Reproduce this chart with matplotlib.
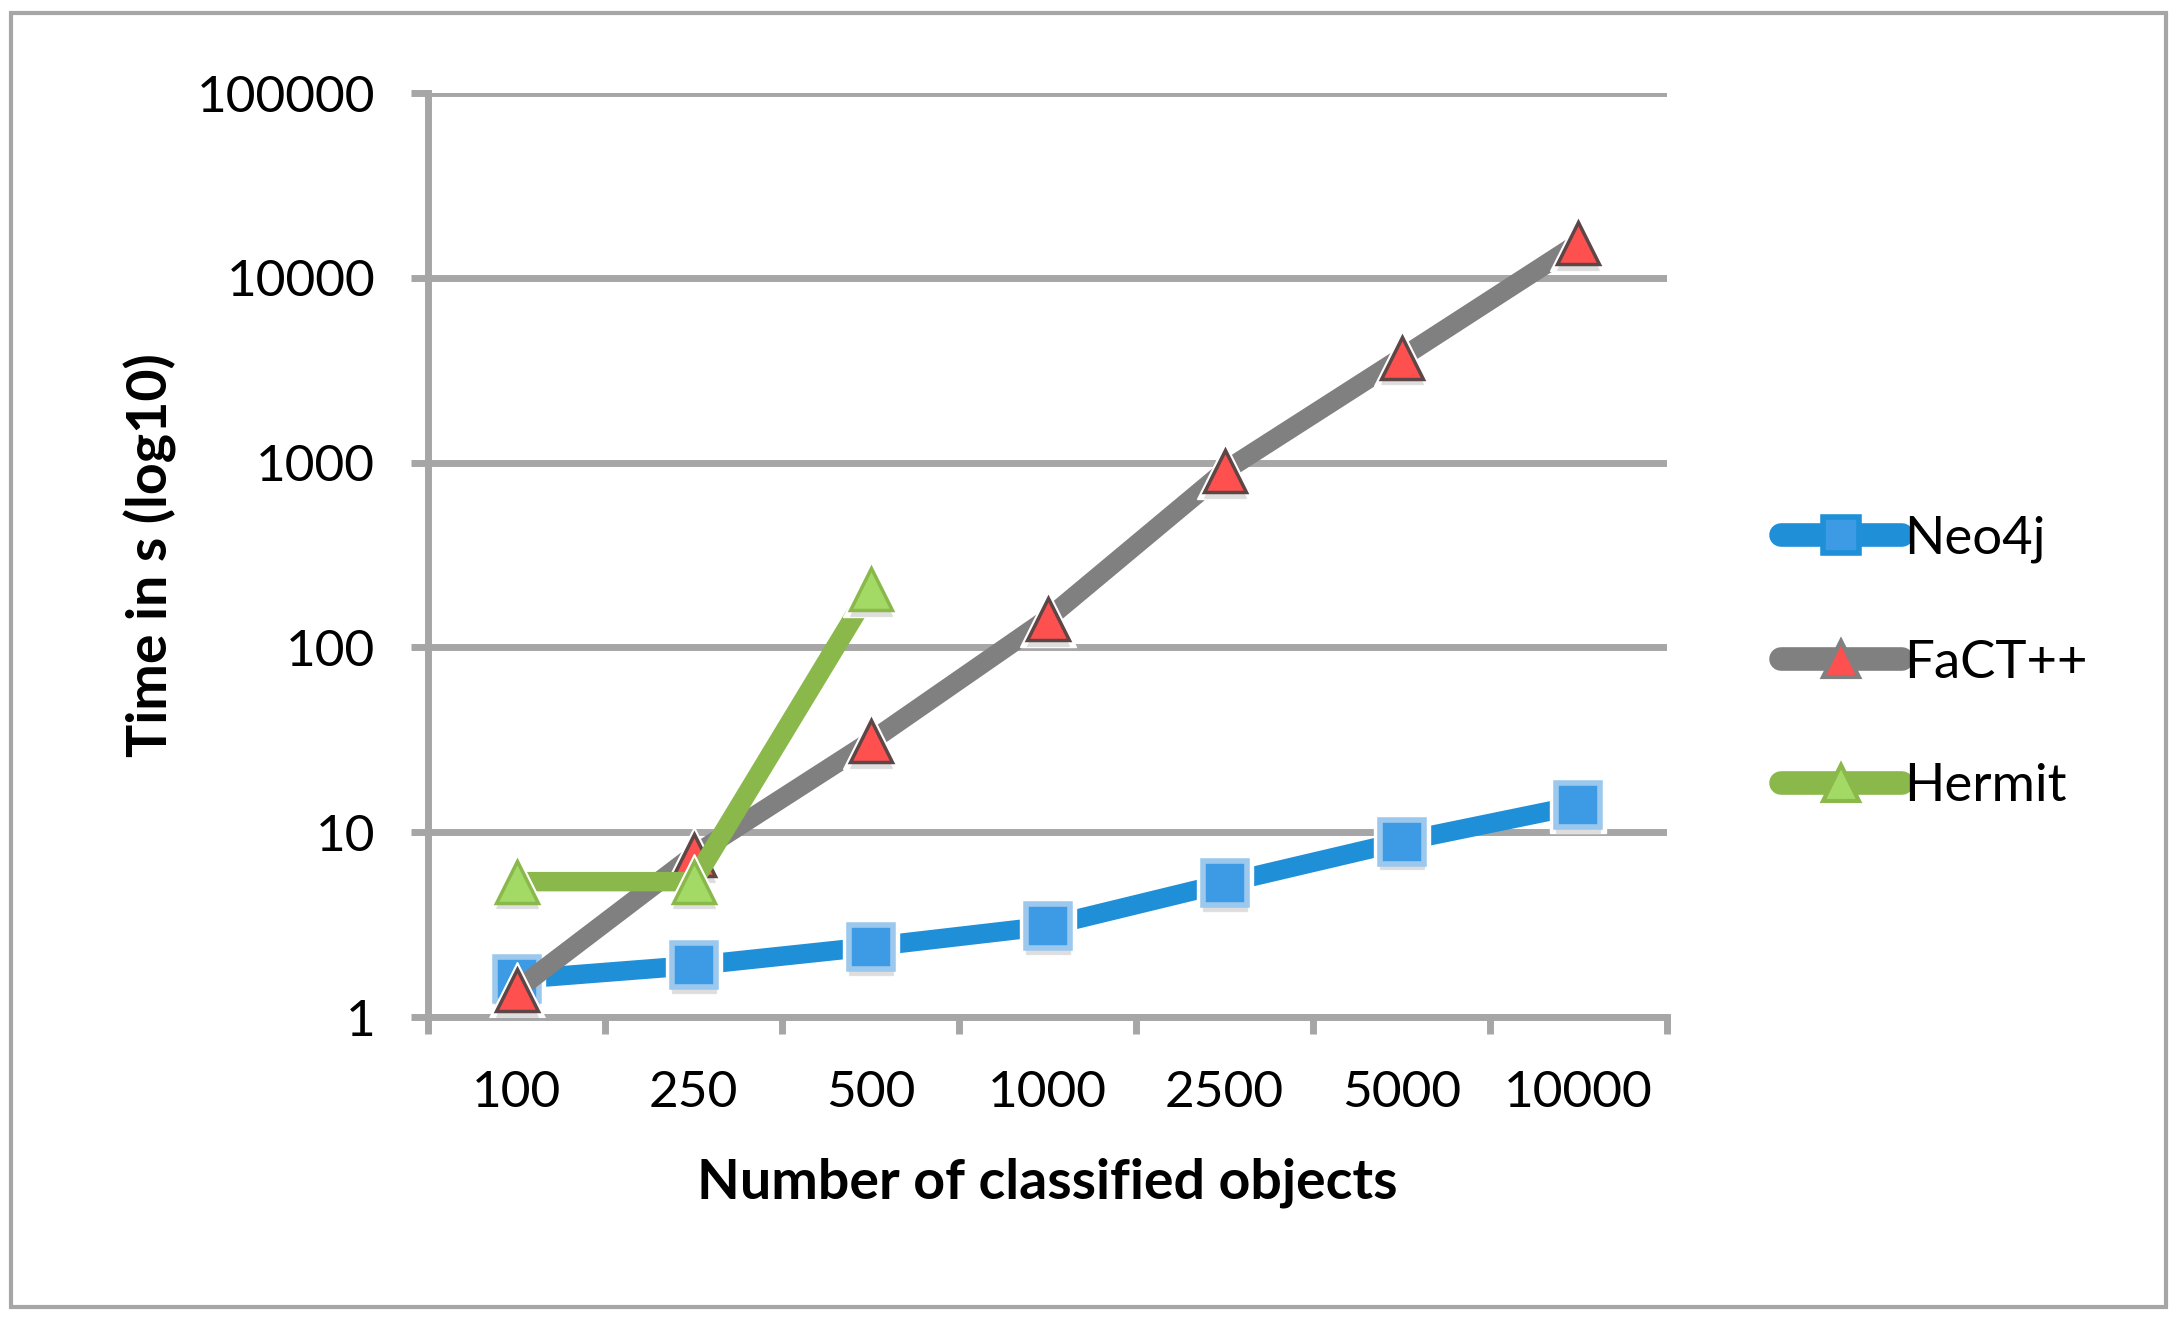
import matplotlib
matplotlib.use('Agg')
import matplotlib.pyplot as plt
from matplotlib.patches import Rectangle
from matplotlib.lines import Line2D
from matplotlib.ticker import FixedLocator, NullLocator, FixedFormatter

plt.rcParams['font.family'] = ['Lato', 'DejaVu Sans']

# number of classified objects
sizes = ['100', '250', '500', '1000', '2500', '5000', '10000']

# time in seconds
neo4j = [1.6, 1.9, 2.4, 3.1, 5.3, 8.9, 14.0]
fact = [1.4, 7.5, 31, 143, 900, 3700, 15400]
hermit = [5.4, 5.4, 206]

yticks = [1, 10, 100, 1000, 10000, 100000]

grid_c = '#a6a6a6'

fig = plt.figure(figsize=(21.77, 13.18), dpi=100)
ax = fig.add_axes([428 / 2177, 1 - 1017 / 1318, (1667 - 428) / 2177, (1017 - 93) / 1318])

# outer frame
fig.patches.append(Rectangle((11 / 2177, 11 / 1318), 2155 / 2177, 1294 / 1318,
                             transform=fig.transFigure, fill=False,
                             edgecolor=grid_c, linewidth=3))

x = list(range(len(sizes)))


def series(xs, ys, color, marker, ms, mfc, mec, mew, z):
    ax.plot(xs, ys, color=color, lw=14, solid_capstyle='round', zorder=z)
    # white halo, soft shadow, then the marker itself
    ax.plot(xs, ys, ls='none', marker=marker, ms=ms + 10, mfc='white',
            mec='white', zorder=z + 0.1)
    ax.plot(xs, [v * 0.93 for v in ys], ls='none', marker=marker,
            ms=ms, mfc='#c8c8c8', mec='#d8d8d8', alpha=0.6, zorder=z + 0.2)
    ax.plot(xs, ys, ls='none', marker=marker, ms=ms, mfc=mfc, mec=mec,
            mew=mew, zorder=z + 0.3)


series(x, neo4j, '#1f8fd8', 's', 31, '#3d9be6', '#9cc8ee', 4, 3)
series(x, fact, '#808080', '^', 30, '#ff5050', '#5e4646', 2.5, 4)
series(x[:len(hermit)], hermit, '#8ab84b', '^', 30, '#a3da66', '#8ab84b', 2.5, 5)

ax.set_yscale('log')
ax.set_ylim(1, 100000)
ax.set_xlim(-0.5, len(sizes) - 0.5)

ax.yaxis.set_major_locator(FixedLocator(yticks))
ax.yaxis.set_major_formatter(FixedFormatter([str(v) for v in yticks]))
ax.yaxis.set_minor_locator(NullLocator())

ax.xaxis.set_major_locator(FixedLocator([i - 0.5 for i in range(len(sizes) + 1)]))
ax.xaxis.set_major_formatter(FixedFormatter([''] * (len(sizes) + 1)))
ax.xaxis.set_minor_locator(FixedLocator(x))
ax.xaxis.set_minor_formatter(FixedFormatter(sizes))

ax.tick_params(axis='y', which='major', length=12, width=5, color=grid_c,
               labelsize=37, pad=26)
ax.tick_params(axis='x', which='major', length=12, width=5, color=grid_c)
ax.tick_params(axis='x', which='minor', length=0, labelsize=37, pad=38)

ax.grid(axis='y', color=grid_c, lw=5, zorder=1)
ax.set_axisbelow(True)
for s in ['top', 'right']:
    ax.spines[s].set_visible(False)
for s in ['left', 'bottom']:
    ax.spines[s].set_color(grid_c)
    ax.spines[s].set_linewidth(5)
    ax.spines[s].set_zorder(1)

ax.set_ylabel('Time in s (log10)', fontsize=40, fontweight='bold', labelpad=14)
ax.set_xlabel('Number of classified objects', fontsize=40, fontweight='bold', labelpad=30)

handles = [
    Line2D([], [], color='#1f8fd8', lw=17, solid_capstyle='round', marker='s', ms=26,
           mfc='#3d9be6', mec='#1f8fd8', mew=4),
    Line2D([], [], color='#808080', lw=17, solid_capstyle='round', marker='^', ms=26,
           mfc='#ff5050', mec='#808080', mew=3),
    Line2D([], [], color='#8ab84b', lw=17, solid_capstyle='round', marker='^', ms=26,
           mfc='#a3da66', mec='#8ab84b', mew=3),
]
fig.legend(handles, ['Neo4j', 'FaCT++', 'Hermit'], loc='center left',
           bbox_to_anchor=(1733 / 2177, 1 - 663 / 1318), frameon=False,
           fontsize=38, handlelength=2.3, handletextpad=0.05, labelspacing=1.45)

fig.savefig('out.png', dpi=100)
